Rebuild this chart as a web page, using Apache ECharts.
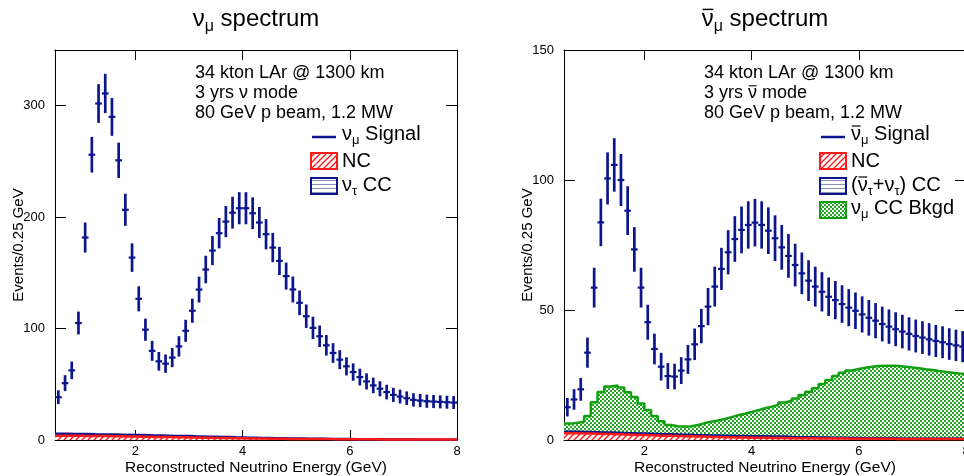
<!DOCTYPE html>
<html><head><meta charset="utf-8">
<script src="https://cdn.jsdelivr.net/npm/echarts@6/dist/echarts.min.js"></script>
<style>html,body{margin:0;padding:0;background:#fff}#c{width:964px;height:476px}</style>
</head><body><div id="c"></div>
<script>
// ---- binning (reconstructed neutrino energy, GeV) ----
const binLow = 0.5;
const binWidth = 0.125;
const xMax = 8;
const xTickValues = [2, 4, 6, 8];
const yTickValuesNu = [0, 100, 200, 300];
const yTickValuesNubar = [0, 50, 100, 150];

// ---- nu_mu mode (left panel) ----
const numuSignal = [38.4,51,62.5,105,181.7,256,302,311,290,251,
  206.6,163.7,126.7,99,80,70.6,68.5,74,84,98,
  116,135,153,170,185.6,196,204,208,208,203.5,
  195.2,184.7,172.7,160.7,147.1,135.1,123.1,111.1,100.6,93.1,
  85,78.1,72.1,66.1,61,56.5,52.6,49,46,43,
  40.5,39,37.5,36,35.4,34.8,34.5,34.2,33.9,33.6];
const numuNC = [3.9,3.9,3.8,3.8,3.7,3.6,3.5,3.5,3.4,3.3,
  3.2,3.1,3.0,2.9,2.8,2.7,2.6,2.5,2.4,2.3,
  2.2,2.1,2.0,1.9,1.8,1.7,1.6,1.5,1.4,1.3,
  1.3,1.2,1.1,1.1,1.0,1.0,0.9,0.9,0.8,0.8,
  0.8,0.7,0.7,0.7,0.6,0.6,0.6,0.6,0.5,0.5,
  0.5,0.5,0.5,0.4,0.4,0.4,0.4,0.4,0.4,0.4];
const numuTauCC = [1.6,1.6,1.6,1.6,1.6,1.5,1.5,1.5,1.5,1.5,
  1.4,1.4,1.4,1.4,1.3,1.3,1.3,1.2,1.2,1.2,
  1.1,1.1,1.0,1.0,0.9,0.9,0.8,0.8,0.7,0.7,
  0.6,0.6,0.5,0.5,0.4,0.4,0.4,0.3,0.3,0.3,
  0.2,0.2,0.2,0.2,0.1,0.1,0.1,0.1,0.1,0.1,
  0.1,0.1,0.1,0.1,0.1,0.1,0.1,0.1,0.1,0.1];

// ---- anti-nu_mu mode (right panel) ----
const nubarSignal = [12.6,15.6,19.5,33.6,58.6,83.7,100.6,105.8,100,88.2,
  73.3,58.6,45.3,35,28.2,24.6,24.4,26.7,31,36.8,
  43.8,51.3,59,65.8,72.2,77.3,80.8,82.7,83.6,82.7,
  80.5,77.6,74.1,70.8,67.3,64.1,61.3,59,57,55.1,
  53.8,52.3,50.9,49.7,48.3,47,45.9,44.6,43.6,42.6,
  41.7,40.8,40,39.4,38.7,38.1,37.6,36.9,36.4,35.9];
const nubarNC = [2.6,2.6,2.5,2.5,2.4,2.3,2.3,2.2,2.1,2.0,
  1.9,1.9,1.8,1.7,1.6,1.6,1.5,1.4,1.4,1.3,
  1.3,1.2,1.2,1.1,1.1,1.0,1.0,0.9,0.9,0.9,
  0.8,0.8,0.8,0.7,0.7,0.7,0.7,0.6,0.6,0.6,
  0.6,0.6,0.5,0.5,0.5,0.5,0.5,0.5,0.5,0.4,
  0.4,0.4,0.4,0.4,0.4,0.4,0.4,0.4,0.4,0.4];
const nubarTauCC = [0.6,0.6,0.6,0.6,0.6,0.6,0.6,0.6,0.6,0.6,
  0.6,0.6,0.6,0.6,0.6,0.6,0.6,0.6,0.6,0.5,
  0.5,0.5,0.5,0.5,0.5,0.5,0.5,0.5,0.5,0.5,
  0.5,0.5,0.5,0.5,0.4,0.4,0.4,0.4,0.4,0.3,
  0.3,0.3,0.3,0.3,0.2,0.2,0.2,0.2,0.2,0.2,
  0.1,0.1,0.1,0.1,0.1,0.1,0.1,0.1,0.1,0.1];
const nubarNumuCCBkgd = [3.1,3.4,3.9,6.1,11.5,15.6,17.7,18.2,17.5,15.8,
  14.0,11.5,9.1,6.9,5.0,3.6,3.2,3.2,3.3,4.0,
  4.7,5.3,5.8,6.5,7.2,8.0,8.6,9.4,10.1,10.8,
  11.5,12.2,13.1,13.9,14.9,16.2,17.5,18.9,20.5,22.2,
  23.7,25.0,25.9,26.5,27.1,27.5,27.8,27.9,27.9,27.9,
  27.7,27.4,27.1,26.7,26.4,26.0,25.7,25.4,25.1,24.9];

// ---- styles ----
const FONT = "'Liberation Sans', Arial, Helvetica, sans-serif";
const NAVY = '#0c168c';
const RED = '#ff1a1a';
const GREEN = '#12a012';

function pattern(w, h, draw) {
  const c = document.createElement('canvas');
  c.width = w; c.height = h;
  const g = c.getContext('2d');
  g.fillStyle = '#fff'; g.fillRect(0, 0, w, h);
  draw(g);
  return { image: c, repeat: 'repeat' };
}
const redHatch = pattern(6, 6, g => {
  g.strokeStyle = RED; g.lineWidth = 1.4; g.beginPath();
  g.moveTo(-1, 7); g.lineTo(7, -1);
  g.moveTo(-1, 1); g.lineTo(1, -1);
  g.moveTo(5, 7); g.lineTo(7, 5);
  g.stroke();
});
const blueHatch = pattern(4, 4, g => { g.fillStyle = '#8a8fb8'; g.fillRect(0, 0, 4, 1); });
const greenCheck = pattern(4, 4, g => { g.fillStyle = '#22a822'; g.fillRect(0, 0, 2, 2); g.fillRect(2, 2, 2, 2); });

// stacked totals (THStack style): NC at the bottom, then tau CC, then nu_mu CC background
function addArrays(a, b) { return a.map((v, i) => v + b[i]); }
const numuStackTau = addArrays(numuNC, numuTauCC);
const nubarStackTau = addArrays(nubarNC, nubarTauCC);
const nubarStackBkgd = addArrays(nubarStackTau, nubarNumuCCBkgd);

function histPoints(vals) {
  const pts = vals.map((v, i) => [binLow + i * binWidth, v]);
  pts.push([binLow + vals.length * binWidth, vals[vals.length - 1]]);
  return pts;
}
function histSeries(vals, axisIdx, color, fill, z) {
  return {
    type: 'line', xAxisIndex: axisIdx, yAxisIndex: axisIdx,
    step: 'end', symbol: 'none', data: histPoints(vals), z: z,
    lineStyle: { color: color, width: 2.5 },
    areaStyle: { color: fill, opacity: 1, origin: 'start' }, silent: true
  };
}
function errorSeries(vals, axisIdx) {
  return {
    type: 'custom', xAxisIndex: axisIdx, yAxisIndex: axisIdx, z: 10, silent: true,
    data: vals.map((v, i) => [binLow + (i + 0.5) * binWidth, v]),
    renderItem(params, api) {
      const x = api.value(0), y = api.value(1), e = Math.sqrt(y);
      const a = api.coord([x, y - e]), b = api.coord([x, y + e]);
      const l = api.coord([x - binWidth / 2, y]), r = api.coord([x + binWidth / 2, y]);
      return { type: 'group', children: [
        { type: 'line', shape: { x1: a[0], y1: a[1], x2: b[0], y2: b[1] }, style: { stroke: NAVY, lineWidth: 2.7 } },
        { type: 'line', shape: { x1: l[0], y1: l[1], x2: r[0], y2: r[1] }, style: { stroke: NAVY, lineWidth: 2.2 } }
      ] };
    }
  };
}

function xAxes(gi) {
  const common = { gridIndex: gi, type: 'value', min: binLow, max: xMax, splitLine: { show: false },
    axisLine: { show: true, onZero: false, lineStyle: { color: '#000', width: 1 } } };
  return [
    Object.assign({}, common, {
      position: 'bottom',
      axisTick: { show: true, inside: true, length: 10, customValues: [2, 4, 6], lineStyle: { color: '#000' } },
      axisLabel: { show: true, customValues: xTickValues, color: '#000', fontSize: 13, fontFamily: FONT, margin: 5 },
      name: 'Reconstructed Neutrino Energy (GeV)', nameLocation: 'middle', nameGap: 20, nameMoveOverlap: false,
      nameTextStyle: { color: '#000', fontSize: 15.5, fontFamily: FONT }
    }),
    Object.assign({}, common, {
      position: 'top',
      axisTick: { show: true, inside: true, length: 10, customValues: [2, 4, 6], lineStyle: { color: '#000' } },
      axisLabel: { show: false }
    })
  ];
}
function yAxes(gi, max, ticks) {
  const common = { gridIndex: gi, type: 'value', min: 0, max: max, splitLine: { show: false },
    axisLine: { show: true, onZero: false, lineStyle: { color: '#000', width: 1 } } };
  const inner = ticks.slice(1, -1);
  if (max > ticks[ticks.length - 1]) inner.push(ticks[ticks.length - 1]);
  return [
    Object.assign({}, common, {
      position: 'left',
      axisTick: { show: true, inside: true, length: 11, customValues: inner, lineStyle: { color: '#000' } },
      axisLabel: { show: true, customValues: ticks, color: '#000', fontSize: 13, fontFamily: FONT, margin: 10 },
      name: 'Events/0.25 GeV', nameLocation: 'middle', nameRotate: 90, nameGap: 29, nameMoveOverlap: false,
      nameTextStyle: { color: '#000', fontSize: 15, fontFamily: FONT }
    }),
    Object.assign({}, common, {
      position: 'right',
      axisTick: { show: true, inside: true, length: 11, customValues: inner, lineStyle: { color: '#000' } },
      axisLabel: { show: false }
    })
  ];
}

// ---- text with subscripts / overbars, laid out with measured widths ----
const mctx = document.createElement('canvas').getContext('2d');
function textWidth(t, size) { mctx.font = size + 'px ' + FONT; return mctx.measureText(t).width; }
// parts: [text, kind]  kind: 'n' normal, 's' subscript, 'b' normal with overbar
function richLine(x, y, parts, size, align) {
  const subSize = Math.round(size * 0.66);
  const widths = parts.map(p => textWidth(p[0], p[1] === 's' ? subSize : size));
  const total = widths.reduce((s, w) => s + w, 0);
  let cx = align === 'center' ? x - total / 2 : x;
  const els = [];
  parts.forEach((p, i) => {
    const isSub = p[1] === 's';
    els.push({ type: 'text', x: cx, y: isSub ? y + size * 0.3 : y, silent: true,
      style: { text: p[0], fontSize: isSub ? subSize : size, fontFamily: FONT, fill: '#000',
        align: 'left', verticalAlign: 'middle' } });
    if (p[1] === 'b') {
      const by = y - size * 0.4;
      els.push({ type: 'line', silent: true, shape: { x1: cx + size * 0.04, y1: by, x2: cx + widths[i] - size * 0.02, y2: by },
        style: { stroke: '#000', lineWidth: Math.max(1, size * 0.06) } });
    }
    cx += widths[i];
  });
  return els;
}

function panelText(dx, anti) {
  const nu = anti ? ['\u03BD', 'b'] : ['\u03BD', 'n'];
  const els = [
    ...richLine(195 + dx, 73, [['34 kton LAr @ 1300 km', 'n']], 18),
    ...richLine(195 + dx, 93, [['3 yrs ', 'n'], nu, [' mode', 'n']], 18),
    ...richLine(195 + dx, 113, [['80 GeV p beam, 1.2 MW', 'n']], 18),
    { type: 'line', silent: true, shape: { x1: 312 + dx, y1: 137, x2: 336 + dx, y2: 137 }, style: { stroke: NAVY, lineWidth: 2.5 } },
    ...richLine(342 + dx, 134, [nu, ['\u03BC', 's'], [' Signal', 'n']], 20),
    { type: 'rect', silent: true, shape: { x: 311 + dx, y: 153, width: 26, height: 16 }, style: { fill: redHatch, stroke: RED, lineWidth: 2 } },
    ...richLine(342 + dx, 161, [['NC', 'n']], 20),
    { type: 'rect', silent: true, shape: { x: 311 + dx, y: 178, width: 26, height: 16 }, style: { fill: blueHatch, stroke: NAVY, lineWidth: 2 } },
    ...richLine(342 + dx, 185, anti
      ? [['(', 'n'], ['\u03BD', 'b'], ['\u03C4', 's'], ['+\u03BD', 'n'], ['\u03C4', 's'], [') CC', 'n']]
      : [['\u03BD', 'n'], ['\u03C4', 's'], [' CC', 'n']], 20)
  ];
  if (anti) {
    els.push({ type: 'rect', silent: true, shape: { x: 311 + dx, y: 202, width: 26, height: 16 }, style: { fill: greenCheck, stroke: GREEN, lineWidth: 2 } });
    els.push(...richLine(342 + dx, 208, [['\u03BD', 'n'], ['\u03BC', 's'], [' CC Bkgd', 'n']], 20));
  }
  // panel title
  els.push(...richLine(256 + dx, 19, [nu, ['\u03BC', 's'], [' spectrum', 'n']], 24, 'center'));
  return els;
}

const chart = echarts.init(document.getElementById('c'), null, { renderer: 'canvas' });
chart.setOption({
  animation: false,
  backgroundColor: '#fff',
  grid: [
    { left: 55, top: 50, width: 402, height: 390, outerBoundsMode: 'none', containLabel: false },
    { left: 564, top: 50, width: 402, height: 390, outerBoundsMode: 'none', containLabel: false }
  ],
  xAxis: [...xAxes(0), ...xAxes(1)],
  yAxis: [...yAxes(0, 350, yTickValuesNu), ...yAxes(1, 150, yTickValuesNubar)],
  series: [
    histSeries(numuStackTau, 0, NAVY, blueHatch, 3),
    histSeries(numuNC, 0, RED, redHatch, 4),
    errorSeries(numuSignal, 0),
    histSeries(nubarStackBkgd, 2, GREEN, greenCheck, 2),
    histSeries(nubarStackTau, 2, NAVY, blueHatch, 3),
    histSeries(nubarNC, 2, RED, redHatch, 4),
    errorSeries(nubarSignal, 2)
  ],
  graphic: [...panelText(0, false), ...panelText(509, true)]
});
</script>
</body></html>
